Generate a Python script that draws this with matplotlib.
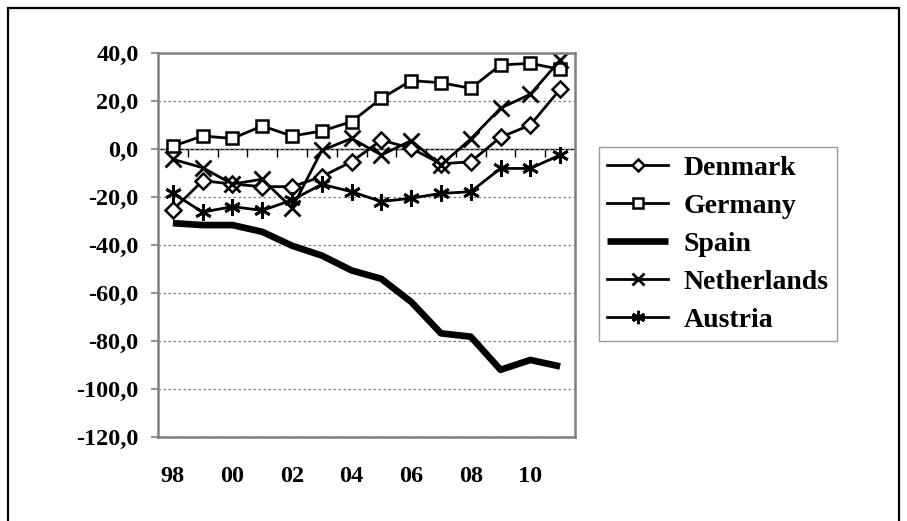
import matplotlib
matplotlib.use("Agg")
import matplotlib.pyplot as plt
from matplotlib.patches import Rectangle

years = ["98", "99", "00", "01", "02", "03", "04", "05", "06", "07", "08", "09", "10", "11"]

denmark = [-25.4, -13.2, -14.6, -15.7, -15.7, -11.5, -5.3, 3.7, 0.3, -6.2, -5.3, 4.9, 10.0, 24.9]
germany = [1.2, 5.4, 4.4, 9.6, 5.4, 7.5, 11.4, 21.1, 28.5, 27.6, 25.3, 35.0, 35.7, 33.2]
spain = [-30.9, -31.7, -31.7, -34.5, -40.3, -44.4, -50.6, -54.1, -63.7, -76.8, -78.2, -92.0, -87.9, -90.6]
netherlands = [-4.3, -7.8, -14.6, -12.6, -24.6, -0.6, 4.4, -2.5, 3.5, -6.7, 4.2, 17.0, 22.8, 37.0]
austria = [-18.5, -26.3, -24.0, -25.6, -21.3, -14.7, -17.8, -21.9, -20.5, -18.5, -17.8, -8.1, -8.1, -2.5]

y_ticks = [40, 20, 0, -20, -40, -60, -80, -100, -120]

serif = ["Liberation Serif", "DejaVu Serif"]
plt.rcParams["font.family"] = serif
plt.rcParams["font.weight"] = "bold"

fig = plt.figure(figsize=(9.07, 5.21), dpi=100)
ax = fig.add_axes([158 / 907, 1 - 437 / 521, 417 / 907, 384 / 521])

x = list(range(len(years)))
ax.plot(x, denmark, color="black", lw=2.0, marker="D", ms=8, mfc="white", mec="black", mew=1.8, label="Denmark")
ax.plot(x, germany, color="black", lw=2.0, marker="s", ms=9, mfc="white", mec="black", mew=1.8, label="Germany")
ax.plot(x, spain, color="black", lw=4.8, solid_capstyle="butt", label="Spain")
ax.plot(x, netherlands, color="black", lw=2.0, marker="x", ms=11, mew=2.0, label="Netherlands")
ax.plot(x, austria, color="black", lw=2.0, marker=(6, 2, 0), ms=12, mew=2.0, label="Austria")

ax.set_xlim(-0.5, len(years) - 0.5)
ax.set_ylim(-120, 40)
ax.set_yticks(y_ticks)
ax.set_yticklabels([f"{v:.1f}".replace(".", ",") for v in y_ticks])
ax.set_xticks(x[::2])
ax.set_xticklabels(years[::2])

ax.tick_params(axis="y", direction="out", length=5, width=1.2, color="#808080", pad=9, labelsize=17.5)
ax.tick_params(axis="x", length=0, pad=21, labelsize=17.5)

ax.yaxis.grid(True, linestyle=(0, (2, 2)), color="#808080", lw=0.9)
ax.set_axisbelow(True)
for s in ax.spines.values():
    s.set_color("#808080")
    s.set_linewidth(1.8)

# category axis crossing at zero, with ticks between categories
zero = ax.secondary_xaxis((0 - (-120)) / 160)
zero.set_xticks([i + 0.5 for i in x[:-1]])
zero.set_xticklabels([])
zero.tick_params(direction="in", length=6, width=1.0, color="black")
zero.spines["top"].set_color("black")
zero.spines["top"].set_linewidth(1.0)

leg = ax.legend(loc="upper left", bbox_to_anchor=(599 / 907, 1 - 147 / 521),
                bbox_transform=fig.transFigure, frameon=True, fancybox=False,
                edgecolor="#808080", fontsize=20, handlelength=2.2,
                handletextpad=0.55, labelspacing=0.45, borderpad=0.3,
                borderaxespad=0, markerscale=0.8)
leg.get_frame().set_linewidth(1.0)

fig.patches.append(Rectangle((8 / 907, -0.05), 891 / 907, 1.05 - 8 / 521,
                             transform=fig.transFigure, fill=False,
                             edgecolor="black", lw=1.6))

fig.savefig("out.png", dpi=100)
plt.close(fig)
